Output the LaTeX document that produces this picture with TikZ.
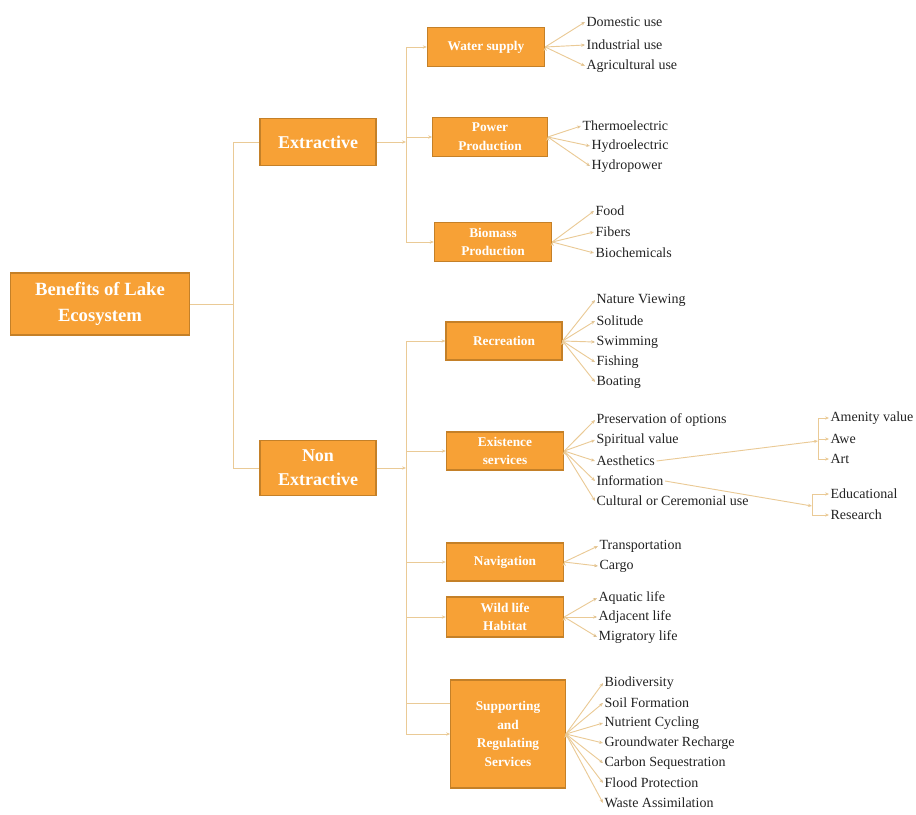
\documentclass[tikz,border=0pt]{standalone}
\usepackage{fontspec}
\setmainfont{Liberation Serif}
\usetikzlibrary{arrows.meta}
\definecolor{boxfill}{RGB}{247,161,54}
\definecolor{boxline}{RGB}{196,128,40}
\definecolor{linkc}{RGB}{234,202,150}
\definecolor{leaftext}{RGB}{35,35,35}
\begin{document}
\begin{tikzpicture}[x=0.75pt,y=-0.75pt,
    box/.style={draw=boxline,fill=boxfill,text=white,align=center,inner sep=1pt,line width=0.8pt,
      font=\fontsize{10}{14}\selectfont\bfseries},
    bigbox/.style={box,font=\fontsize{13.5}{18}\selectfont\bfseries},
    leaf/.style={anchor=west,inner sep=1pt,text=leaftext,font=\fontsize{10.5}{12}\selectfont},
    link/.style={draw=linkc,line width=0.7pt},
    arr/.style={link,-{Stealth[length=3pt,width=2.5pt]}}]
  \useasboundingbox (0,0) rectangle (916,814);
  % main boxes
  \node[bigbox,minimum width=134pt,minimum height=46.5pt,font=\fontsize{14}{19}\selectfont\bfseries] (root) at (100,304) {Benefits of Lake\\Ecosystem};
  \node[bigbox,minimum width=87pt,minimum height=35pt] (ext) at (318,142) {Extractive};
  \node[bigbox,minimum width=87pt,minimum height=41pt] (nonext) at (318,468) {Non\\Extractive};
  \node[box,minimum width=88pt,minimum height=29pt] (water) at (486,47) {Water supply};
  \node[box,minimum width=86pt,minimum height=29pt] (power) at (490,137) {Power\\Production};
  \node[box,minimum width=88pt,minimum height=29pt] (bio) at (493,242) {Biomass\\Production};
  \node[box,minimum width=87pt,minimum height=28.5pt] (rec) at (504,341) {Recreation};
  \node[box,minimum width=88pt,minimum height=28.5pt] (exist) at (505,451) {Existence\\services};
  \node[box,minimum width=88pt,minimum height=28.5pt] (nav) at (505,562) {Navigation};
  \node[box,minimum width=88pt,minimum height=30pt] (wild) at (505,617) {Wild life\\Habitat};
  \node[box,minimum width=86pt,minimum height=81pt] (supp) at (508,734) {Supporting\\and\\Regulating\\Services};
  % trunk
  \coordinate (trm) at (233,304);
  \draw[link] (root.east) -- (trm) |- (ext.west);
  \draw[link] (trm) |- (nonext.west);
  % extractive branch
  \coordinate (eb) at (406,142);
  \draw[arr] (ext.east) -- (eb);
  \draw[arr] (eb) |- (water.west);
  \draw[arr] (eb) |- (power.west);
  \draw[arr] (eb) |- (bio.west);
  % non extractive branch
  \coordinate (nb) at (406,468);
  \draw[arr] (nonext.east) -- (nb);
  \draw[arr] (nb) |- (rec.west);
  \draw[arr] (nb) |- (exist.west);
  \draw[arr] (nb) |- (nav.west);
  \draw[arr] (nb) |- (wild.west);
  \draw[link] (nb) |- (supp.west |- 0,703);
  \draw[arr] (nb) |- (supp.west);
  % leaves
  \node[leaf] (dom) at (585,22) {Domestic use};
  \node[leaf] (ind) at (585,45) {Industrial use};
  \node[leaf] (agr) at (585,66) {Agricultural use};
  \draw[arr] (water.east) edge (dom.west) edge (ind.west) edge (agr.west);
  \node[leaf] (therm) at (581,126) {Thermoelectric};
  \node[leaf] (hydel) at (590,146) {Hydroelectric};
  \node[leaf] (hydp) at (590,166) {Hydropower};
  \draw[arr] (power.east) edge (therm.west) edge (hydel.west) edge (hydp.west);
  \node[leaf] (food) at (594,211) {Food};
  \node[leaf] (fib) at (594,232) {Fibers};
  \node[leaf] (bioc) at (594,253) {Biochemicals};
  \draw[arr] (bio.east) edge (food.west) edge (fib.west) edge (bioc.west);
  \node[leaf] (natv) at (595,300) {Nature Viewing};
  \node[leaf] (sol) at (595,321) {Solitude};
  \node[leaf] (swim) at (595,342) {Swimming};
  \node[leaf] (fish) at (595,362) {Fishing};
  \node[leaf] (boat) at (595,382) {Boating};
  \draw[arr] (rec.east) edge (natv.west) edge (sol.west) edge (swim.west) edge (fish.west) edge (boat.west);
  \node[leaf] (pres) at (595,420) {Preservation of options};
  \node[leaf] (spir) at (595,440) {Spiritual value};
  \node[leaf] (aes) at (595,461) {Aesthetics};
  \node[leaf] (info) at (595,481) {Information};
  \node[leaf] (cult) at (595,501) {Cultural or Ceremonial use};
  \draw[arr] (exist.east) edge (pres.west) edge (spir.west) edge (aes.west) edge (info.west) edge (cult.west);
  \node[leaf] (amen) at (829,418) {Amenity value};
  \node[leaf] (awe) at (829,439) {Awe};
  \node[leaf] (art) at (829,459) {Art};
  \coordinate (ab) at (818,441);
  \draw[arr] (aes.east) -- (ab);
  \draw[arr] (ab) |- (amen.west);
  \draw[arr] (ab) |- (awe.west);
  \draw[arr] (ab) |- (art.west);
  \node[leaf] (edu) at (829,494) {Educational};
  \node[leaf] (res) at (829,515) {Research};
  \coordinate (ib) at (812,506);
  \draw[arr] (info.east) -- (ib);
  \draw[arr] (ib) |- (edu.west);
  \draw[arr] (ib) |- (res.west);
  \node[leaf] (trans) at (598,546) {Transportation};
  \node[leaf] (cargo) at (598,566) {Cargo};
  \draw[arr] (nav.east) edge (trans.west) edge (cargo.west);
  \node[leaf] (aqua) at (597,598) {Aquatic life};
  \node[leaf] (adj) at (597,617) {Adjacent life};
  \node[leaf] (migr) at (597,637) {Migratory life};
  \draw[arr] (wild.east) edge (aqua.west) edge (adj.west) edge (migr.west);
  \node[leaf] (biod) at (603,683) {Biodiversity};
  \node[leaf] (soil) at (603,703) {Soil Formation};
  \node[leaf] (nutr) at (603,723) {Nutrient Cycling};
  \node[leaf] (grw) at (603,743) {Groundwater Recharge};
  \node[leaf] (carb) at (603,763) {Carbon Sequestration};
  \node[leaf] (flood) at (603,783) {Flood Protection};
  \node[leaf] (waste) at (603,803) {Waste Assimilation};
  \draw[arr] (supp.east) edge (biod.west) edge (soil.west) edge (nutr.west) edge (grw.west)
    edge (carb.west) edge (flood.west) edge (waste.west);
\end{tikzpicture}
\end{document}
